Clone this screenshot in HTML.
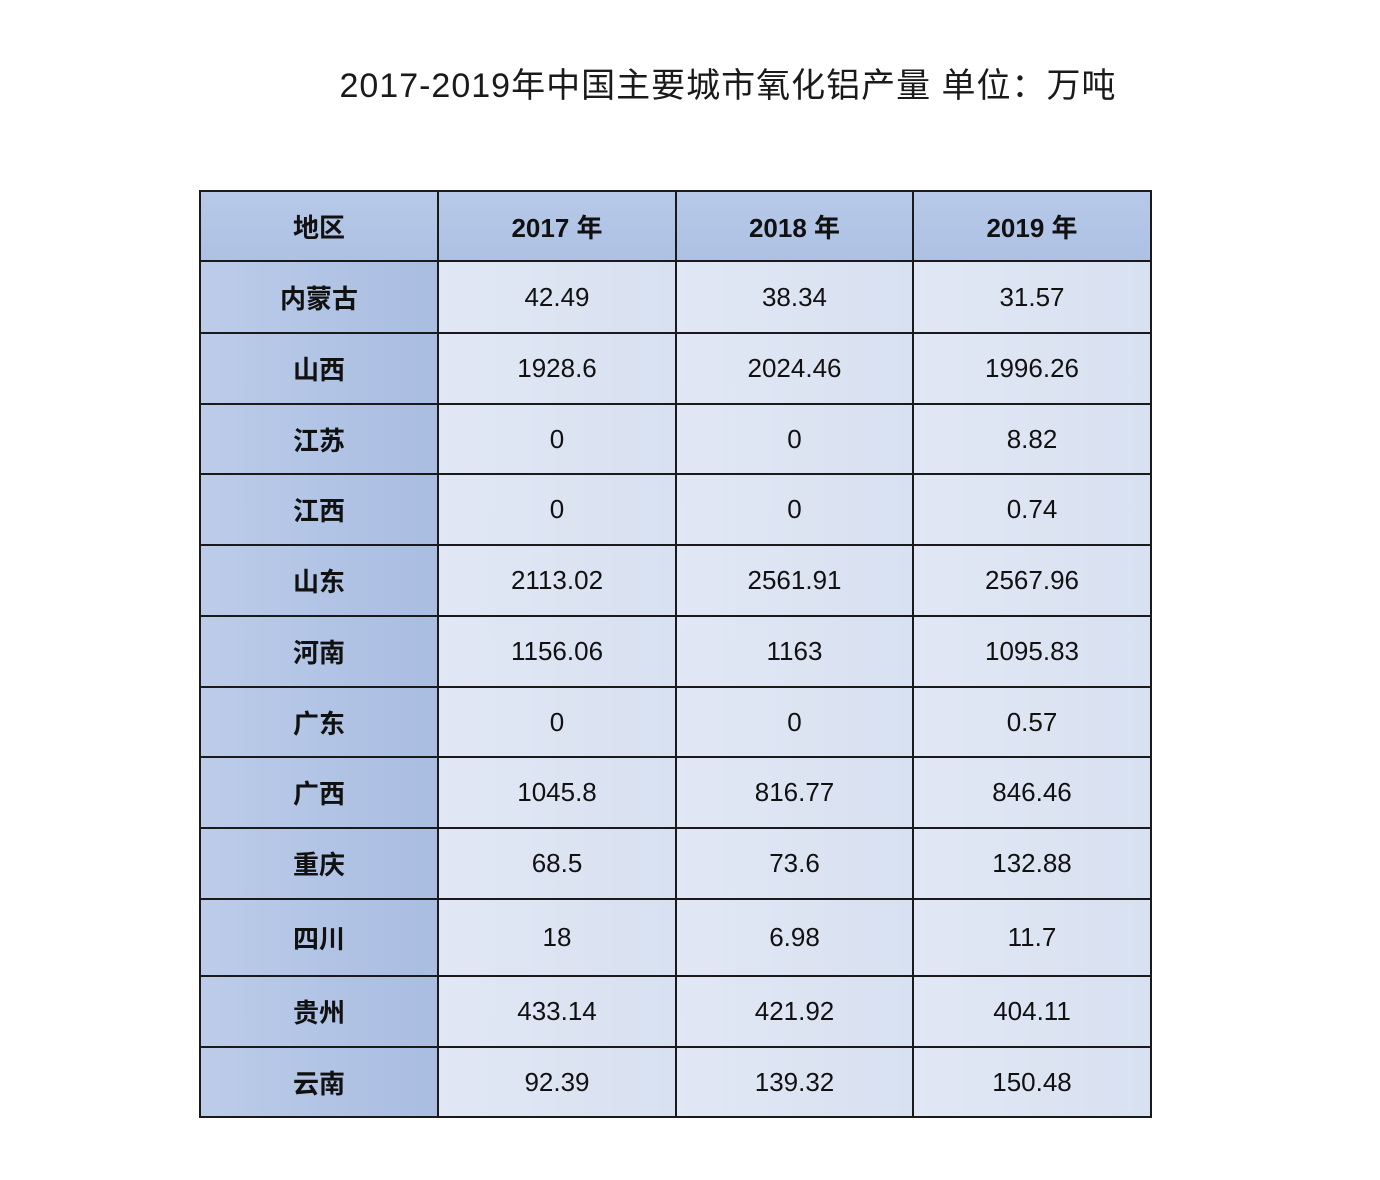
<!DOCTYPE html><html><head><meta charset="utf-8"><style>
body{margin:0;width:1380px;height:1180px;background:#fff;position:relative;overflow:hidden;font-family:"Liberation Sans","Noto Sans CJK SC",sans-serif}
.t{position:absolute;left:0;width:1380px;top:58px;text-align:center;font-size:34px;color:#1a1a1a;padding-left:76px;box-sizing:border-box;letter-spacing:1px}
.c{position:absolute;box-sizing:border-box;border:2px solid #1a1a1a;display:flex;align-items:center;justify-content:center;font-size:26px;color:#111}
.h{background:linear-gradient(#b7c9e8,#adc1e4);font-weight:bold}
.f{background:linear-gradient(90deg,#bccce9,#a9bde2);font-weight:bold}
.d{background:linear-gradient(90deg,#e1e7f4,#d8e1f1)}
</style></head><body>
<div class="t">2017-2019年中国主要城市氧化铝产量 单位：万吨</div>
<div id="g"></div>
<script>
var xs=[200,438,676,913,1151],ys=[191,261,333,404,474,545,616,687,757,828,899,976,1047,1117];
var rows=[["地区","2017 年","2018 年","2019 年"],["内蒙古","42.49","38.34","31.57"],["山西","1928.6","2024.46","1996.26"],["江苏","0","0","8.82"],["江西","0","0","0.74"],["山东","2113.02","2561.91","2567.96"],["河南","1156.06","1163","1095.83"],["广东","0","0","0.57"],["广西","1045.8","816.77","846.46"],["重庆","68.5","73.6","132.88"],["四川","18","6.98","11.7"],["贵州","433.14","421.92","404.11"],["云南","92.39","139.32","150.48"]];
var h="";
for(var r=0;r<13;r++)for(var c=0;c<4;c++){
var cl=r==0?"h":(c==0?"f":"d");
h+='<div class="c '+cl+'" style="left:'+(xs[c]-1)+'px;top:'+(ys[r]-1)+'px;width:'+(xs[c+1]-xs[c]+2)+'px;height:'+(ys[r+1]-ys[r]+2)+'px">'+rows[r][c]+'</div>';}
document.getElementById("g").innerHTML=h;
</script>
</body></html>
